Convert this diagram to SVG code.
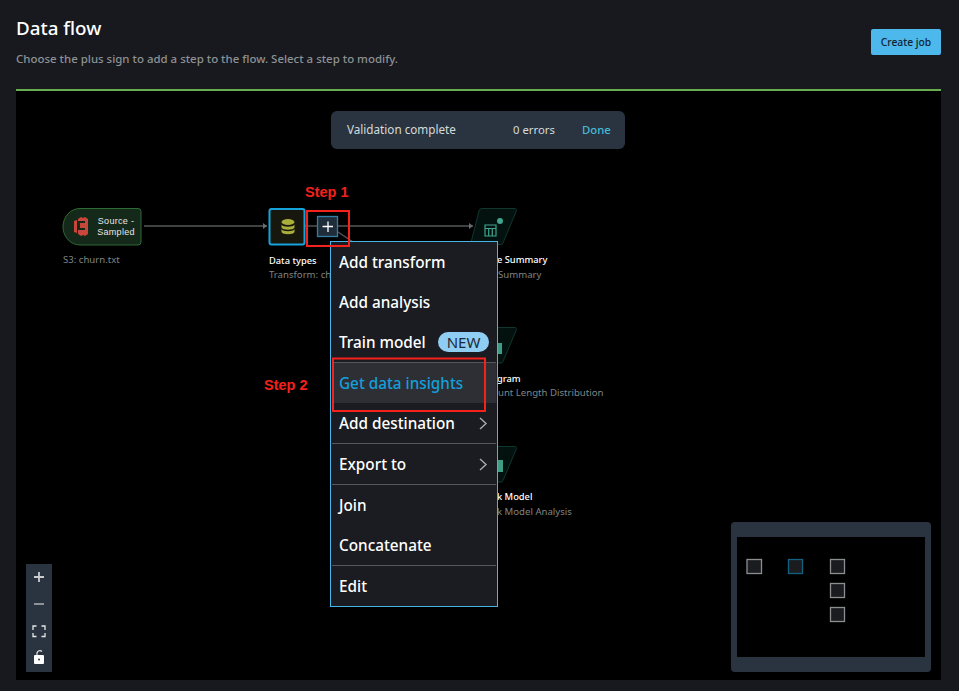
<svg xmlns="http://www.w3.org/2000/svg" width="959" height="691" viewBox="0 0 959 691">
<style>
text{font-family:"Noto Sans","Liberation Sans",sans-serif}
.h{fill:#d5dbdb;font-size:11.3px;font-weight:400}
.w{fill:#fff;font-size:9.3px;font-weight:500}
.g{fill:#7f8585;font-size:9.6px}
.m{fill:#fff;font-size:15.3px;font-weight:500}
.r{fill:#f5211b;font-family:"Liberation Sans",Arial,sans-serif;font-size:14.5px;font-weight:700}
.c{fill:none;stroke:#55585a;stroke-width:1.4}
.t{fill:#04120f;stroke:#10362f;stroke-width:1}
.sq{fill:#1a1c20;stroke:#8b8e90;stroke-width:1.3}
.sep{stroke:#55585b;stroke-width:1}
.chev{fill:none;stroke:#a9abad;stroke-width:1.4}
.redbox{fill:none;stroke:#f5211b;stroke-width:2}
.src{font-family:"Liberation Sans",Arial,sans-serif;font-size:9px;letter-spacing:.3px;fill:#e6e8e8}
</style>
<defs>
<marker id="arr" markerWidth="5" markerHeight="6" refX="4" refY="3" orient="auto" markerUnits="userSpaceOnUse"><path d="M0 0L4 3L0 6Z" fill="#6a6d6f"/></marker>
</defs>
<rect width="959" height="691" fill="#17191e"/>
<g id="header">
<text x="16" y="35" style="font-size:18.800px;font-weight:500" fill="#fff">Data flow</text>
<text x="16" y="63" style="font-size:11.460px;font-weight:500" fill="#8d9194">Choose the plus sign to add a step to the flow. Select a step to modify.</text>
<rect x="871" y="29" width="70" height="26" rx="2" fill="#4cb8ec"/>
<text x="906" y="46" text-anchor="middle" style="font-size:10.300px;font-weight:500" fill="#12232e">Create job</text>
</g>
<rect x="16" y="91" width="925" height="589" fill="#000"/>
<rect x="16" y="89" width="925" height="2" fill="#69ae4d"/>
<g id="connectors">
<line class="c" x1="144" y1="226" x2="267" y2="226" marker-end="url(#arr)"/>
<line class="c" x1="305" y1="226" x2="317" y2="226"/>
<line class="c" x1="338" y1="226" x2="473" y2="226" marker-end="url(#arr)"/>
<line class="c" x1="338" y1="232" x2="356" y2="244"/>
</g>
<g id="validation">
<rect x="331" y="111" width="294" height="38" rx="6" fill="#2a3440"/>
<text x="347" y="134" class="h" style="font-size:11.700px">Validation complete</text>
<text x="513" y="134" class="h">0 errors</text>
<text x="582" y="134" class="h" style="font-weight:500;fill:#44b9d6">Done</text>
</g>
<g id="node-source">
<path d="M80 208.500H138a3 3 0 0 1 3 3V242a3 3 0 0 1-3 3H80a17 18.250 0 0 1 0-36.500Z" fill="#14291a" stroke="#2f6b36"/>
<path d="M74 221l3-1v13l-3-1ZM78 219l3-2 2 1 2-1 3 2v15l-3 2-2-1-2 1-3-2v-4h7v-2h-5v-5h5v-2h-7Z" fill="#c8473a"/>
<text x="116" y="224" text-anchor="middle" class="src">Source -</text>
<text x="116" y="235" text-anchor="middle" class="src">Sampled</text>
<text x="63" y="263" class="g">S3: churn.txt</text>
</g>
<g id="node-data-types">
<rect x="269.500" y="209" width="35" height="35.500" rx="2" fill="#17170d" stroke="#16a3dc" stroke-width="2"/>
<g fill="#a9ad3c">
<ellipse cx="288" cy="222" rx="6.500" ry="3"/>
<path d="M281.500 224.500c1 3 12 3 13 0v3c-1 3-12 3-13 0Z"/>
<path d="M281.500 229c1 3 12 3 13 0v3c-1 3-12 3-13 0Z"/>
</g>
<text x="269" y="264" class="w">Data types</text>
<text x="269" y="278" class="g">Transform: ch</text>
</g>
<g id="node-plus">
<rect x="317.500" y="216.500" width="20" height="20" fill="#1f2d3b" stroke="#2f7fa6" stroke-width="1.300"/>
<path d="M328 221.500V232M322.500 226.500H333" stroke="#fff" stroke-width="1.300"/>
</g>
<g id="node-table-summary">
<path d="M482 208.500H515a1.500 1.500 0 0 1 1.500 2L503 243a2 2 0 0 1-2 1.500H470.500L479 211a3 3 0 0 1 3-2.500Z" class="t"/>
<circle cx="500" cy="221" r="3" fill="#3fa58f"/>
<path d="M485 225h11v11h-11ZM485 228.500h11M488.700 228.500v7.500M492.300 228.500v7.500" fill="none" stroke="#3fa58f" stroke-width="1.200"/>
<text x="497" y="263" class="w">e Summary</text>
<text x="498" y="278" class="g">Summary</text>
</g>
<g id="node-histogram">
<path d="M497 327.500H515a1.500 1.500 0 0 1 1.500 2L503 361.500a2 2 0 0 1-2 1.500H497Z" class="t"/>
<rect x="497" y="343" width="5" height="11" fill="#3f9c87"/>
<text x="497" y="382" class="w">gram</text>
<text x="498" y="396" class="g">unt Length Distribution</text>
</g>
<g id="node-quick-model">
<path d="M497 446.500H515a1.500 1.500 0 0 1 1.500 2L503 480.500a2 2 0 0 1-2 1.500H497Z" class="t"/>
<rect x="497" y="460" width="6" height="12" fill="#3f9c87"/>
<text x="497" y="500" class="w">k Model</text>
<text x="497" y="515" class="g">k Model Analysis</text>
</g>
<g id="menu">
<rect x="330.500" y="241.500" width="167" height="365" fill="#1a1c21" stroke="#45b4e6" stroke-width="1"/>
<rect x="332" y="363" width="164.500" height="40" fill="#2d2f34"/>
<line class="sep" x1="332" y1="362.500" x2="496" y2="362.500"/>
<line class="sep" x1="332" y1="443.500" x2="496" y2="443.500"/>
<line class="sep" x1="332" y1="484.500" x2="496" y2="484.500"/>
<line class="sep" x1="332" y1="565.500" x2="496" y2="565.500"/>
<text x="339" y="268" class="m">Add transform</text>
<text x="339" y="308" class="m">Add analysis</text>
<text x="339" y="348" class="m">Train model</text>
<rect x="438" y="332" width="51" height="20" rx="10" fill="#8fcdf3"/>
<text x="463.500" y="348" text-anchor="middle" style="font-size:15px;font-weight:400" fill="#1a2a38">NEW</text>
<text x="339" y="389" class="m" style="fill:#149fdb">Get data insights</text>
<text x="339" y="429" class="m">Add destination</text>
<path class="chev" d="M480 418l6 5.500-6 5.500"/>
<text x="339" y="470" class="m">Export to</text>
<path class="chev" d="M480 459l6 5.500-6 5.500"/>
<text x="339" y="511" class="m">Join</text>
<text x="339" y="551" class="m">Concatenate</text>
<text x="339" y="592" class="m">Edit</text>
</g>
<g id="annotations">
<rect class="redbox" x="307" y="211" width="42" height="35"/>
<text x="305" y="197" class="r">Step 1</text>
<rect class="redbox" x="333" y="358.500" width="152" height="52.500"/>
<text x="264" y="390" class="r">Step 2</text>
</g>
<g id="zoom-controls">
<rect x="26" y="564" width="26" height="108" fill="#2a3440"/>
<path d="M39 572V582M34 577H44" stroke="#c9cdd0" stroke-width="1.800"/>
<path d="M34 604H44" stroke="#9a9ea2" stroke-width="1.800"/>
<path d="M33 630v-4h3.500M41.500 626H45v4M45 633v3.500h-3.500M36.500 636.500H33V633" fill="none" stroke="#e4e6e7" stroke-width="1.300"/>
<rect x="34" y="655" width="10" height="9" rx="1" fill="#fff"/>
<circle cx="39" cy="659.500" r="1" fill="#2a3440"/>
<path d="M37 655v-2a3 3 0 0 1 5 -1.500" fill="none" stroke="#e4e6e7" stroke-width="1.200"/>
</g>
<g id="minimap">
<rect x="731" y="522" width="200" height="150" rx="4" fill="#2a3440"/>
<rect x="737" y="537" width="188" height="120" fill="#000"/>
<rect class="sq" x="747" y="559.500" width="14.500" height="14"/>
<rect class="sq" x="788.500" y="559.500" width="14" height="14" style="stroke:#14607f"/>
<rect class="sq" x="830.500" y="559.500" width="14" height="14"/>
<rect class="sq" x="830.500" y="583.500" width="14" height="14"/>
<rect class="sq" x="830.500" y="607.500" width="14" height="14"/>
</g>
</svg>
